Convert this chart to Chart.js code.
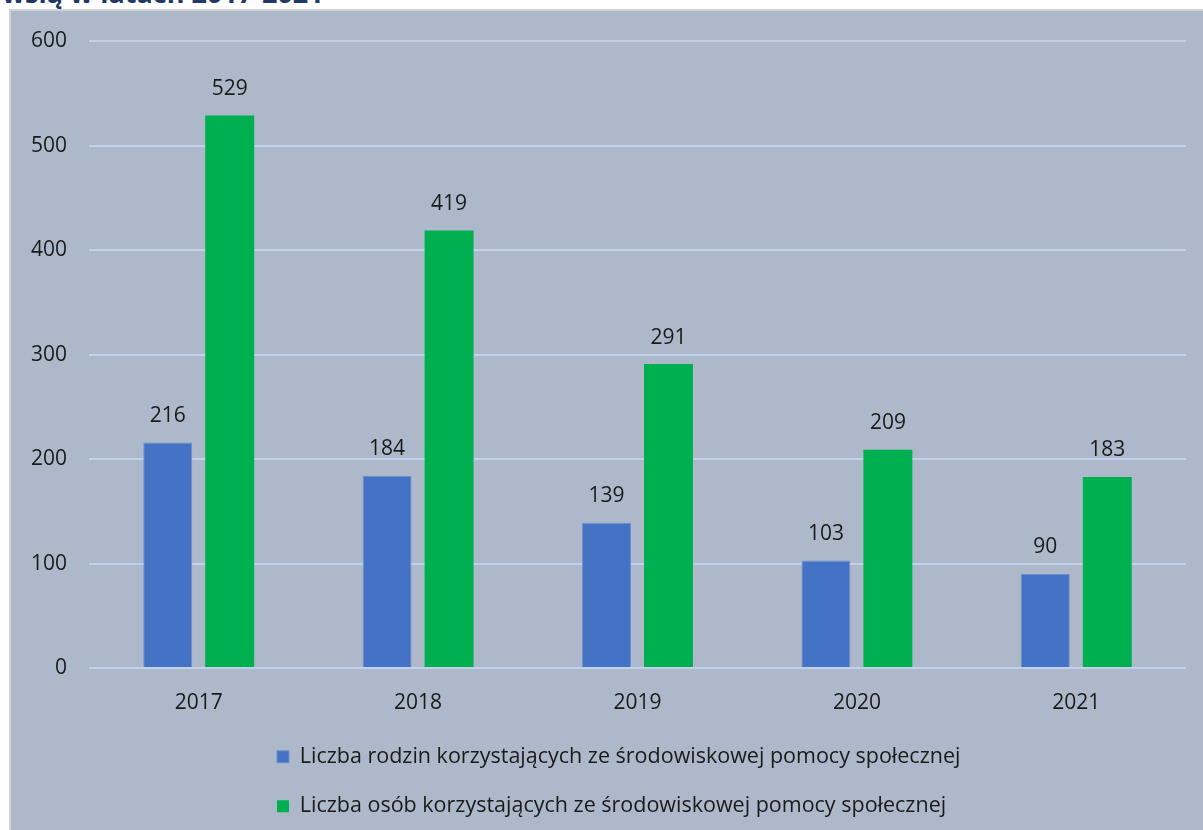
<!DOCTYPE html>
<html lang="pl">
<head>
  <meta charset="UTF-8">
  <title>Liczba rodzin i osób korzystających ze środowiskowej pomocy społecznej</title>
  <script src="https://cdn.jsdelivr.net/npm/chart.js"></script>
  <style>
    body { margin: 0; background: #fff; font-family: 'Open Sans', sans-serif; overflow: hidden; }
    .title { position: absolute; left: 2px; top: -26px; font-size: 27px; font-weight: bold; color: #1f3864; white-space: nowrap; }
    .box { position: absolute; left: 9px; top: 9px; width: 1194px; height: 821px; background: #adb9ca;
           border-top: 2px solid #d2d2d2; border-left: 2px solid #d2d2d2; box-sizing: border-box; }
  </style>
</head>
<body>
  <div class="title">wsią w latach 2017-2021</div>
  <div class="box">
    <canvas id="chart" width="1192" height="819"></canvas>
  </div>

  <script>
    // data
    const years = ['2017', '2018', '2019', '2020', '2021'];
    const families = [216, 184, 139, 103, 90];
    const persons = [529, 419, 291, 209, 183];
    const yTicks = [0, 100, 200, 300, 400, 500, 600];

    const seriesNames = [
      'Liczba rodzin korzystających ze środowiskowej pomocy społecznej',
      'Liczba osób korzystających ze środowiskowej pomocy społecznej'
    ];

    // values above bars
    const barValues = {
      id: 'barValues',
      afterDatasetsDraw(chart) {
        const ctx = chart.ctx;
        ctx.save();
        ctx.font = '21px "Open Sans"';
        ctx.fillStyle = '#1a1a1a';
        ctx.textAlign = 'center';
        ctx.textBaseline = 'bottom';
        chart.data.datasets.forEach((ds, i) => {
          chart.getDatasetMeta(i).data.forEach((bar, j) => {
            ctx.fillText(ds.data[j], bar.x, bar.y - 16);
          });
        });
        ctx.restore();
      }
    };

    // legend rows start at the same left edge, as in the original
    const legendLeft = {
      id: 'legendLeft',
      afterLayout(chart) {
        const lg = chart.legend;
        const w = lg.right - lg.left;
        lg.left = 266 - lg.options.labels.padding;
        lg.right = lg.left + w;
      }
    };

    new Chart(document.getElementById('chart'), {
      type: 'bar',
      data: {
        labels: years,
        datasets: [
          { label: seriesNames[0], data: families, backgroundColor: '#4472c4', borderColor: '#6f90d0', borderWidth: 1,
            categoryPercentage: 0.565, barPercentage: 0.79 },
          { label: seriesNames[1], data: persons, backgroundColor: '#00b050', borderWidth: 0,
            categoryPercentage: 0.565, barPercentage: 0.79 }
        ]
      },
      options: {
        responsive: false,
        animation: false,
        layout: { padding: { left: 0, right: 17, top: 30, bottom: 3 } },
        scales: {
          x: {
            grid: { display: false },
            border: { display: false },
            ticks: { color: '#1a1a1a', font: { family: 'Open Sans', size: 21 }, padding: 14 },
            afterFit: s => { s.height = 50; }
          },
          y: {
            min: 0, max: 600,
            afterBuildTicks: s => { s.ticks = yTicks.map(v => ({ value: v })); },
            grid: { color: '#c0d1ec', lineWidth: 2, drawTicks: false },
            border: { display: false },
            ticks: { color: '#1a1a1a', font: { family: 'Open Sans', size: 21, lineHeight: 0.8 }, padding: 22 },
            afterFit: s => { s.width = 78; }
          }
        },
        plugins: {
          tooltip: { enabled: false },
          legend: {
            position: 'bottom',
            align: 'start',
            labels: {
              color: '#1a1a1a',
              font: { family: 'Open Sans', size: 21.5 },
              boxWidth: 12, boxHeight: 12,
              padding: 28
            }
          }
        }
      },
      plugins: [barValues, legendLeft]
    });
  </script>
</body>
</html>
